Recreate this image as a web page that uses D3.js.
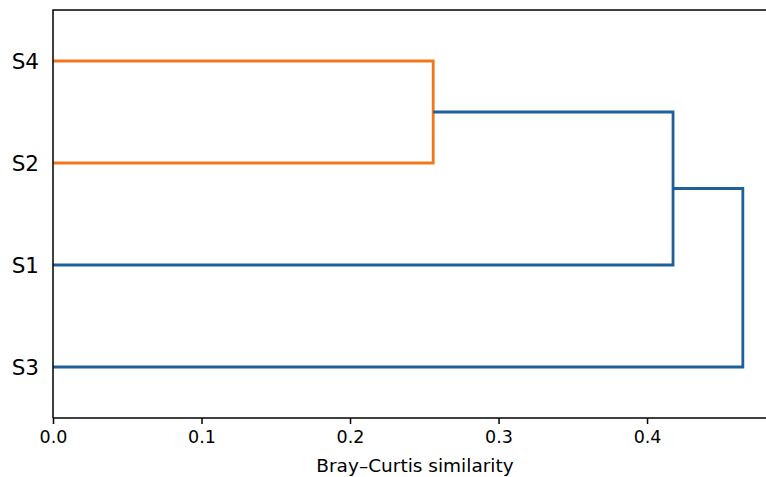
<!DOCTYPE html>
<html>
<head>
<meta charset="utf-8">
<script src="https://cdn.jsdelivr.net/npm/d3@7"></script>
<style>
  body { margin: 0; background: #fff; }
  text { font-family: "DejaVu Sans", sans-serif; fill: #000; }
</style>
</head>
<body>
<div id="chart"></div>
<script>
// leaves, bottom to top (dendrogram order)
var leaves = ['S3', 'S1', 'S2', 'S4'];
var leafPos = [5, 15, 25, 35];
// merges: children and height
var mergeA = ['S2', 'S4'], heightA = 0.256;
var mergeB = ['S1', 'A'], heightB = 0.4175;
var mergeC = ['S3', 'B'], heightC = 0.4645;
var xTicks = [0.0, 0.1, 0.2, 0.3, 0.4];
var orange = '#f5761a', blue = '#1f5f9a';

var width = 766, height = 477;
var margin = {top: 10, right: -11, bottom: 59, left: 53};

var svg = d3.select('#chart').append('svg')
  .attr('width', width).attr('height', height);

var x = d3.scaleLinear().domain([0, 0.4875]).range([margin.left, width - margin.right]);
var y = d3.scaleLinear().domain([0, 40]).range([height - margin.bottom, margin.top]);

// node positions: name -> [height, y]
var pos = {};
leaves.forEach(function(l, i) { pos[l] = [0, leafPos[i]]; });

function link(pair, h, colour, name) {
  var a = pos[pair[0]], b = pos[pair[1]];
  var pts = [[a[0], a[1]], [h, a[1]], [h, b[1]], [b[0], b[1]]];
  svg.append('path')
    .attr('d', d3.line().x(function(d) { return x(d[0]); }).y(function(d) { return y(d[1]); })(pts))
    .attr('fill', 'none')
    .attr('stroke', colour)
    .attr('stroke-width', 2.8);
  pos[name] = [h, (a[1] + b[1]) / 2];
}

link(mergeA, heightA, orange, 'A');
link(mergeB, heightB, blue, 'B');
link(mergeC, heightC, blue, 'C');

// spines
svg.append('path')
  .attr('d', 'M' + x(0) + ',' + y(0) + 'V' + y(40) + 'H' + (width + 20))
  .attr('fill', 'none').attr('stroke', '#000').attr('stroke-width', 1.5);

var xAxis = d3.axisBottom(x).tickValues(xTicks).tickFormat(d3.format('.1f')).tickSize(6).tickPadding(7);
var gx = svg.append('g')
  .attr('transform', 'translate(0,' + y(0) + ')')
  .call(xAxis);
gx.select('.domain').attr('d', 'M' + x(0) + ',0H' + (width + 20)).attr('stroke-width', 1.5);
gx.selectAll('.tick line').attr('stroke-width', 1.5);
gx.selectAll('.tick text').style('font-size', '17.5px').attr('font-family', null);

// leaf labels
svg.selectAll('text.leaf').data(leaves).enter().append('text')
  .attr('class', 'leaf')
  .attr('x', margin.left - 14)
  .attr('y', function(d, i) { return y(leafPos[i]); })
  .attr('dy', '0.35em')
  .attr('text-anchor', 'end')
  .style('font-size', '21.5px')
  .text(function(d) { return d; });

svg.append('text')
  .attr('x', (margin.left + width - margin.right) / 2)
  .attr('y', 472)
  .attr('text-anchor', 'middle')
  .style('font-size', '18.5px')
  .text('Bray–Curtis similarity');
</script>
</body>
</html>
